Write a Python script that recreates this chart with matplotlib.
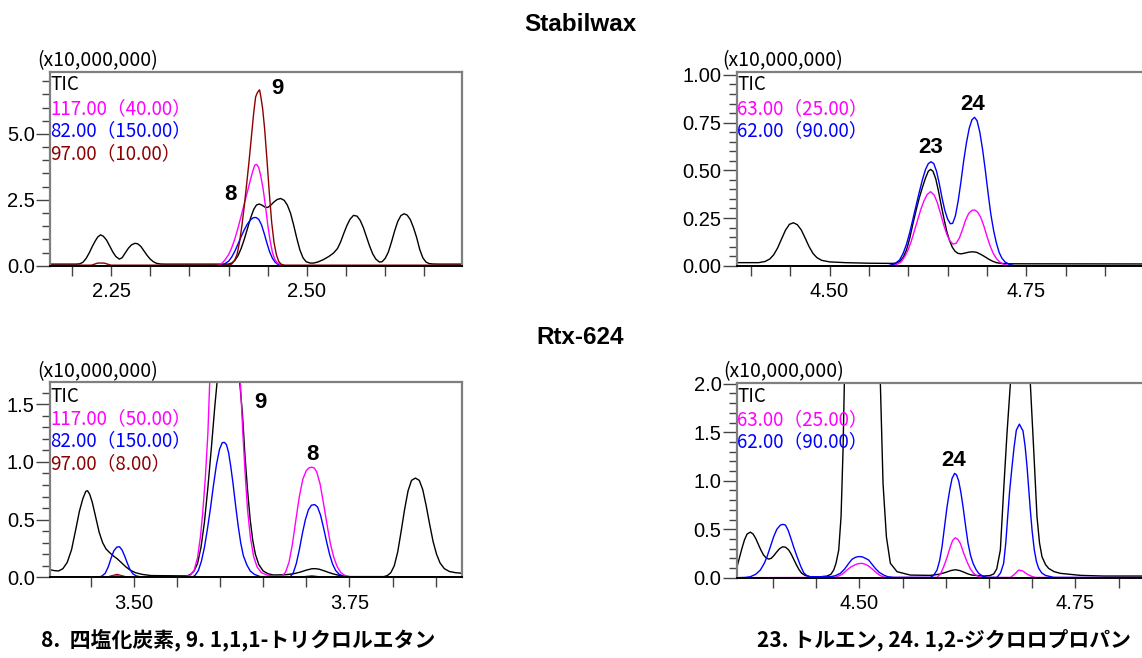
"""Stabilwax / Rtx-624 chromatogram comparison (mass chromatograms)."""

import matplotlib

matplotlib.use("Agg")

import matplotlib.pyplot as plt
from matplotlib.ticker import MultipleLocator, FormatStrFormatter

W, H = 1142, 658
TICK_FONT = "Liberation Sans"
JP_FONT = ["Noto Sans CJK JP", "DejaVu Sans"]

C_TIC = "black"
C_MAG = "#FF00FF"
C_BLUE = "#0000FF"
C_RED = "#8B0000"

# ---- Stabilwax, compounds 8 / 9 (top left) ----
tl_tic_x = [2.172, 2.205, 2.210, 2.214, 2.218, 2.222, 2.226, 2.230, 2.233, 2.2365,
            2.240, 2.244, 2.248, 2.252, 2.256, 2.2605, 2.264, 2.268, 2.272, 2.276,
            2.2805, 2.284, 2.288, 2.292, 2.296, 2.300, 2.304, 2.308, 2.313, 2.32,
            2.400, 2.404, 2.408, 2.412, 2.416, 2.420, 2.424, 2.428, 2.432, 2.4355,
            2.439, 2.4425, 2.4465, 2.450, 2.454, 2.458, 2.462, 2.4665, 2.471, 2.475,
            2.479, 2.483, 2.487, 2.491, 2.495, 2.499, 2.504, 2.5085, 2.514, 2.521,
            2.528, 2.534, 2.539, 2.543, 2.547, 2.551, 2.555, 2.5595, 2.564, 2.568,
            2.572, 2.576, 2.580, 2.584, 2.588, 2.5925, 2.596, 2.600, 2.604, 2.608,
            2.612, 2.616, 2.620, 2.624, 2.628, 2.632, 2.636, 2.640, 2.644, 2.648,
            2.652, 2.656, 2.661, 2.67, 2.698]
tl_tic_y = [0.06, 0.06, 0.07, 0.13, 0.27, 0.48, 0.73, 0.95, 1.09, 1.17,
            1.12, 0.98, 0.76, 0.53, 0.35, 0.25, 0.30, 0.48, 0.66, 0.79,
            0.85, 0.83, 0.73, 0.56, 0.39, 0.25, 0.15, 0.09, 0.065, 0.06,
            0.06, 0.10, 0.20, 0.38, 0.65, 1.0, 1.4, 1.8, 2.13, 2.30,
            2.34, 2.30, 2.22, 2.21, 2.30, 2.42, 2.51, 2.55, 2.48, 2.30,
            2.00, 1.55, 1.05, 0.60, 0.30, 0.15, 0.10, 0.10, 0.14, 0.23,
            0.35, 0.48, 0.65, 0.90, 1.22, 1.52, 1.76, 1.91, 1.88, 1.72,
            1.45, 1.10, 0.75, 0.45, 0.25, 0.14, 0.15, 0.28, 0.52, 0.90,
            1.32, 1.68, 1.90, 1.97, 1.92, 1.75, 1.45, 1.08, 0.62, 0.30,
            0.14, 0.08, 0.065, 0.06, 0.06]
tl_blue_x = [2.172, 2.385, 2.390, 2.395, 2.400, 2.404, 2.408, 2.412, 2.416, 2.420,
             2.424, 2.428, 2.4315, 2.435, 2.4385, 2.442, 2.4455, 2.449, 2.4525, 2.456,
             2.4595, 2.463, 2.467, 2.472, 2.698]
tl_blue_y = [0.0, 0.0, 0.02, 0.07, 0.17, 0.33, 0.55, 0.82, 1.10, 1.36,
             1.58, 1.74, 1.82, 1.83, 1.76, 1.55, 1.22, 0.85, 0.52, 0.28,
             0.13, 0.05, 0.01, 0.0, 0.0]
tl_mag_x = [2.172, 2.383, 2.390, 2.395, 2.400, 2.404, 2.408, 2.412, 2.416, 2.420,
            2.424, 2.428, 2.431, 2.4335, 2.436, 2.4385, 2.441, 2.444, 2.447, 2.450,
            2.453, 2.456, 2.459, 2.462, 2.466, 2.472, 2.698]
tl_mag_y = [0.0, 0.0, 0.05, 0.2, 0.42, 0.68, 1.02, 1.43, 1.88, 2.35,
            2.80, 3.27, 3.60, 3.82, 3.84, 3.72, 3.42, 2.93, 2.28, 1.55,
            0.95, 0.50, 0.24, 0.11, 0.04, 0.0, 0.0]
tl_red_x = [2.172, 2.225, 2.233, 2.241, 2.25, 2.400, 2.404, 2.408, 2.411, 2.414,
            2.417, 2.420, 2.423, 2.426, 2.429, 2.432, 2.4345, 2.4365, 2.4385, 2.4396,
            2.4415, 2.4435, 2.446, 2.449, 2.452, 2.455, 2.458, 2.461, 2.464, 2.467,
            2.471, 2.698]
tl_red_y = [0.02, 0.02, 0.10, 0.10, 0.02, 0.02, 0.06, 0.22, 0.45, 0.9,
            1.52, 2.25, 3.08, 3.92, 4.85, 5.78, 6.4, 6.55, 6.64, 6.67,
            6.35, 5.95, 5.2, 4.02, 2.75, 1.65, 0.88, 0.42, 0.16, 0.06,
            0.02, 0.02]

# ---- Stabilwax, compounds 23 / 24 (top right) ----
tr_tic_x = [4.382, 4.41, 4.418, 4.424, 4.429, 4.434, 4.439, 4.444, 4.449, 4.4542,
            4.459, 4.464, 4.469, 4.474, 4.479, 4.484, 4.49, 4.50, 4.52, 4.55,
            4.58, 4.585, 4.590, 4.594, 4.598, 4.602, 4.606, 4.610, 4.614, 4.618,
            4.622, 4.6255, 4.6285, 4.6315, 4.635, 4.6385, 4.642, 4.6455, 4.649, 4.6525,
            4.656, 4.6595, 4.663, 4.667, 4.672, 4.677, 4.682, 4.687, 4.692, 4.697,
            4.702, 4.707, 4.712, 4.718, 4.73, 4.92]
tr_tic_y = [0.016, 0.016, 0.022, 0.035, 0.057, 0.093, 0.14, 0.186, 0.217, 0.225,
            0.215, 0.188, 0.145, 0.10, 0.064, 0.042, 0.028, 0.02, 0.016, 0.013,
            0.012, 0.014, 0.025, 0.047, 0.085, 0.145, 0.22, 0.29, 0.355, 0.41,
            0.46, 0.495, 0.505, 0.495, 0.455, 0.39, 0.315, 0.245, 0.18, 0.132,
            0.097, 0.076, 0.065, 0.062, 0.066, 0.071, 0.073, 0.07, 0.06, 0.048,
            0.035, 0.024, 0.016, 0.012, 0.01, 0.009]
tr_mag_x = [4.382, 4.575, 4.585, 4.591, 4.596, 4.600, 4.604, 4.608, 4.612, 4.616,
            4.620, 4.624, 4.6285, 4.633, 4.637, 4.641, 4.645, 4.649, 4.653, 4.657,
            4.661, 4.665, 4.669, 4.673, 4.677, 4.681, 4.6845, 4.688, 4.692, 4.696,
            4.700, 4.704, 4.708, 4.712, 4.716, 4.721, 4.727, 4.92]
tr_mag_y = [0.0, 0.0, 0.005, 0.02, 0.05, 0.085, 0.13, 0.185, 0.24, 0.295,
            0.34, 0.373, 0.388, 0.37, 0.33, 0.275, 0.215, 0.165, 0.13, 0.113,
            0.118, 0.145, 0.19, 0.24, 0.275, 0.29, 0.292, 0.282, 0.255, 0.21,
            0.155, 0.105, 0.065, 0.038, 0.02, 0.008, 0.0, 0.0]
tr_blue_x = [4.382, 4.575, 4.583, 4.589, 4.5936, 4.598, 4.602, 4.606, 4.610, 4.614,
             4.618, 4.622, 4.6255, 4.629, 4.6325, 4.636, 4.6395, 4.643, 4.6465, 4.650,
             4.6535, 4.6565, 4.660, 4.6635, 4.667, 4.6705, 4.674, 4.6775, 4.681, 4.6843,
             4.6875, 4.691, 4.6945, 4.698, 4.7015, 4.705, 4.7085, 4.712, 4.7155, 4.719,
             4.723, 4.728, 4.735, 4.92]
tr_blue_y = [0.0, 0.0, 0.01, 0.03, 0.065, 0.115, 0.175, 0.245, 0.315, 0.385,
             0.45, 0.505, 0.535, 0.545, 0.535, 0.495, 0.43, 0.355, 0.29, 0.245,
             0.22, 0.222, 0.262, 0.34, 0.44, 0.55, 0.645, 0.72, 0.765, 0.778,
             0.76, 0.70, 0.61, 0.50, 0.38, 0.27, 0.185, 0.12, 0.07, 0.04,
             0.02, 0.008, 0.0, 0.0]

# ---- Rtx-624, compounds 8 / 9 (bottom left) ----
bl_tic_x = [3.4034, 3.408, 3.413, 3.418, 3.423, 3.428, 3.433, 3.437, 3.441, 3.4445,
            3.4465, 3.449, 3.452, 3.456, 3.460, 3.464, 3.468, 3.472, 3.4765, 3.481,
            3.486, 3.491, 3.496, 3.502, 3.51, 3.52, 3.5618, 3.566, 3.570, 3.574,
            3.578, 3.582, 3.586, 3.590, 3.594, 3.598, 3.602, 3.606, 3.610, 3.614,
            3.618, 3.6229, 3.626, 3.629, 3.632, 3.635, 3.638, 3.641, 3.645, 3.650,
            3.656, 3.662, 3.675, 3.685, 3.693, 3.700, 3.7065, 3.7106, 3.715, 3.720,
            3.726, 3.732, 3.74, 3.748, 3.79, 3.794, 3.798, 3.802, 3.806, 3.810,
            3.814, 3.818, 3.822, 3.8265, 3.831, 3.835, 3.839, 3.843, 3.847, 3.851,
            3.855, 3.86, 3.866, 3.873, 3.8806]
bl_tic_y = [0.065, 0.058, 0.055, 0.075, 0.13, 0.24, 0.42, 0.57, 0.68, 0.745,
            0.75, 0.72, 0.65, 0.52, 0.39, 0.30, 0.245, 0.215, 0.185, 0.16,
            0.125, 0.09, 0.062, 0.04, 0.025, 0.015, 0.012, 0.025, 0.055, 0.12,
            0.26, 0.48, 0.78, 1.12, 1.48, 1.80, 2.05, 2.18, 2.15, 2.02,
            1.85, 1.69, 1.42, 1.05, 0.75, 0.5, 0.32, 0.2, 0.11, 0.055,
            0.03, 0.02, 0.022, 0.03, 0.045, 0.062, 0.074, 0.075, 0.07, 0.058,
            0.042, 0.028, 0.013, 0.006, 0.006, 0.015, 0.04, 0.1, 0.22, 0.40,
            0.59, 0.75, 0.84, 0.86, 0.84, 0.76, 0.62, 0.46, 0.31, 0.2,
            0.125, 0.075, 0.05, 0.04, 0.035]
bl_mag_x = [3.4034, 3.472, 3.4807, 3.489, 3.56, 3.566, 3.570, 3.574, 3.5773, 3.580,
            3.5831, 3.586, 3.5881, 3.592, 3.597, 3.602, 3.606, 3.610, 3.614, 3.619,
            3.6236, 3.6265, 3.6294, 3.632, 3.6352, 3.639, 3.643, 3.648, 3.6546, 3.6662,
            3.672, 3.676, 3.680, 3.684, 3.688, 3.692, 3.696, 3.700, 3.7035, 3.7067,
            3.7095, 3.712, 3.716, 3.720, 3.724, 3.728, 3.732, 3.736, 3.740, 3.745,
            3.752, 3.8806]
bl_mag_y = [0.0, 0.0, 0.017, 0.0, 0.004, 0.02, 0.06, 0.17, 0.35, 0.56,
            0.87, 1.25, 1.69, 2.4, 3.0, 3.28, 3.3, 3.22, 3.0, 2.4,
            1.69, 1.25, 0.87, 0.58, 0.35, 0.18, 0.09, 0.04, 0.02, 0.006,
            0.01, 0.045, 0.13, 0.29, 0.5, 0.7, 0.85, 0.925, 0.95, 0.954,
            0.945, 0.915, 0.81, 0.64, 0.46, 0.29, 0.17, 0.09, 0.042, 0.015,
            0.004, 0.0]
bl_blue_x = [3.4034, 3.458, 3.463, 3.467, 3.4705, 3.474, 3.477, 3.4805, 3.4835, 3.4865,
             3.4895, 3.4925, 3.4955, 3.499, 3.503, 3.508, 3.568, 3.5715, 3.575, 3.5785,
             3.582, 3.5855, 3.589, 3.5925, 3.596, 3.5995, 3.6025, 3.605, 3.6075, 3.610,
             3.6125, 3.615, 3.618, 3.621, 3.624, 3.627, 3.631, 3.635, 3.640, 3.6468,
             3.6816, 3.685, 3.6885, 3.692, 3.6955, 3.699, 3.7025, 3.706, 3.7098, 3.713,
             3.7165, 3.720, 3.7235, 3.727, 3.7305, 3.734, 3.738, 3.743, 3.75, 3.8806]
bl_blue_y = [0.0, 0.0, 0.01, 0.035, 0.09, 0.17, 0.23, 0.262, 0.265, 0.237,
             0.185, 0.125, 0.07, 0.03, 0.012, 0.004, 0.0, 0.02, 0.06, 0.14,
             0.26, 0.42, 0.6, 0.8, 0.98, 1.11, 1.165, 1.17, 1.15, 1.08,
             0.96, 0.82, 0.63, 0.45, 0.3, 0.19, 0.11, 0.055, 0.025, 0.006,
             0.006, 0.04, 0.12, 0.24, 0.38, 0.5, 0.585, 0.625, 0.63, 0.61,
             0.54, 0.43, 0.31, 0.2, 0.115, 0.06, 0.027, 0.01, 0.004, 0.0]
bl_red_x = [3.4034, 3.468, 3.4807, 3.493, 3.69, 3.7067, 3.72, 3.8806]
bl_red_y = [0.0, 0.0, 0.025, 0.0, 0.0, 0.012, 0.0, 0.0]

# ---- Rtx-624, compounds 23 / 24 (bottom right) ----
br_tic_x = [4.3584, 4.361, 4.364, 4.367, 4.370, 4.3738, 4.377, 4.380, 4.383, 4.386,
            4.389, 4.392, 4.395, 4.398, 4.401, 4.404, 4.4075, 4.411, 4.4145, 4.418,
            4.421, 4.424, 4.427, 4.430, 4.433, 4.437, 4.443, 4.455, 4.4626, 4.467,
            4.4703, 4.473, 4.4761, 4.4788, 4.4811, 4.4826, 4.486, 4.491, 4.497, 4.503,
            4.509, 4.515, 4.520, 4.5243, 4.5274, 4.5313, 4.5359, 4.5436, 4.559, 4.5822,
            4.592, 4.600, 4.606, 4.6111, 4.616, 4.6208, 4.626, 4.6304, 4.6439, 4.651,
            4.6555, 4.659, 4.6632, 4.667, 4.6709, 4.6748, 4.679, 4.6835, 4.6865, 4.690,
            4.6945, 4.6979, 4.7018, 4.7056, 4.7085, 4.7114, 4.7155, 4.7191, 4.7255, 4.7326,
            4.7558, 4.7828, 4.848]
br_tic_y = [0.113, 0.2, 0.3, 0.39, 0.45, 0.47, 0.45, 0.405, 0.345, 0.285,
            0.235, 0.205, 0.192, 0.2, 0.228, 0.262, 0.298, 0.318, 0.315, 0.288,
            0.245, 0.19, 0.135, 0.085, 0.048, 0.024, 0.01, 0.01, 0.017, 0.035,
            0.079, 0.15, 0.285, 0.63, 1.32, 2.0, 3.5, 5.8, 7.4, 7.9,
            7.4, 5.8, 3.5, 2.0, 0.97, 0.42, 0.148, 0.062, 0.027, 0.024,
            0.035, 0.055, 0.074, 0.082, 0.074, 0.058, 0.038, 0.027, 0.017, 0.022,
            0.038, 0.09, 0.285, 0.9, 1.49, 2.0, 3.3, 4.2, 4.4, 4.2,
            3.3, 2.0, 1.32, 0.63, 0.36, 0.216, 0.135, 0.096, 0.062, 0.045,
            0.024, 0.017, 0.017]
br_mag_x = [4.3584, 4.47, 4.4742, 4.480, 4.4857, 4.4905, 4.4954, 4.499, 4.5031, 4.507,
            4.5108, 4.5155, 4.5204, 4.525, 4.5301, 4.5899, 4.594, 4.5976, 4.6015, 4.6053,
            4.608, 4.6111, 4.614, 4.6169, 4.6205, 4.6246, 4.6285, 4.6323, 4.637, 4.642,
            4.6748, 4.679, 4.6844, 4.689, 4.694, 4.699, 4.7037, 4.848]
br_mag_y = [0.0, 0.003, 0.01, 0.035, 0.079, 0.113, 0.135, 0.145, 0.148, 0.138,
            0.12, 0.085, 0.045, 0.018, 0.003, 0.003, 0.04, 0.113, 0.21, 0.32,
            0.385, 0.412, 0.395, 0.354, 0.26, 0.165, 0.09, 0.045, 0.015, 0.003,
            0.003, 0.03, 0.079, 0.07, 0.038, 0.015, 0.003, 0.0]
br_blue_x = [4.3584, 4.368, 4.3738, 4.380, 4.3854, 4.390, 4.3931, 4.397, 4.4008, 4.4045,
             4.4086, 4.4115, 4.4144, 4.4175, 4.4201, 4.424, 4.4279, 4.432, 4.4356, 4.4395,
             4.4433, 4.4664, 4.472, 4.478, 4.483, 4.4877, 4.4915, 4.4954, 4.499, 4.5031,
             4.507, 4.5108, 4.5145, 4.5185, 4.523, 4.5282, 4.533, 4.5397, 4.5822, 4.586,
             4.5899, 4.593, 4.5957, 4.5985, 4.6015, 4.6045, 4.6073, 4.6103, 4.6125, 4.615,
             4.6175, 4.620, 4.623, 4.6258, 4.6287, 4.6316, 4.635, 4.6381, 4.643, 4.6478,
             4.6593, 4.6635, 4.667, 4.6695, 4.6717, 4.674, 4.6767, 4.679, 4.6817, 4.6852,
             4.6875, 4.6894, 4.6918, 4.6941, 4.696, 4.6979, 4.700, 4.7025, 4.705, 4.7076,
             4.711, 4.7153, 4.725, 4.848]
br_blue_y = [0.0, 0.003, 0.01, 0.035, 0.079, 0.15, 0.216, 0.32, 0.423, 0.5,
             0.543, 0.55, 0.543, 0.49, 0.423, 0.315, 0.216, 0.12, 0.05, 0.02,
             0.01, 0.01, 0.02, 0.045, 0.09, 0.148, 0.19, 0.21, 0.218, 0.216,
             0.2, 0.182, 0.14, 0.096, 0.055, 0.027, 0.01, 0.003, 0.003, 0.025,
             0.079, 0.18, 0.32, 0.52, 0.732, 0.9, 1.024, 1.076, 1.06, 0.997,
             0.88, 0.732, 0.53, 0.354, 0.23, 0.148, 0.085, 0.045, 0.015, 0.003,
             0.003, 0.05, 0.148, 0.36, 0.63, 0.9, 1.144, 1.34, 1.522, 1.584,
             1.545, 1.515, 1.36, 1.144, 0.92, 0.698, 0.48, 0.285, 0.165, 0.096,
             0.05, 0.024, 0.003, 0.0]

# legend entries (label, colour) per panel
tl_legend = [("TIC", C_TIC), ("117.00（40.00）", C_MAG), ("82.00（150.00）", C_BLUE),
             ("97.00（10.00）", C_RED)]
tr_legend = [("TIC", C_TIC), ("63.00（25.00）", C_MAG), ("62.00（90.00）", C_BLUE)]
bl_legend = [("TIC", C_TIC), ("117.00（50.00）", C_MAG), ("82.00（150.00）", C_BLUE),
             ("97.00（8.00）", C_RED)]
br_legend = [("TIC", C_TIC), ("63.00（25.00）", C_MAG), ("62.00（90.00）", C_BLUE)]

column_titles = ["Stabilwax", "Rtx-624"]
captions = ["8.  四塩化炭素, 9. 1,1,1-トリクロルエタン", "23. トルエン, 24. 1,2-ジクロロプロパン"]


def fx(px):
    return px / W


def fy(py):
    return 1 - py / H


def make_axes(fig, left, top, right, bottom):
    return fig.add_axes([fx(left), fy(bottom), (right - left) / W, (bottom - top) / H])


def style_axes(ax, xlim, ylim, ymajor, yminor, yfmt):
    ax.set_xlim(*xlim)
    ax.set_ylim(*ylim)
    for side in ("left", "top", "right"):
        ax.spines[side].set_color("#7f7f7f")
        ax.spines[side].set_linewidth(1.6)
    ax.spines["bottom"].set_color("black")
    ax.spines["bottom"].set_linewidth(1.4)
    ax.xaxis.set_major_locator(MultipleLocator(0.25))
    ax.xaxis.set_minor_locator(MultipleLocator(0.05))
    ax.xaxis.set_major_formatter(FormatStrFormatter("%.2f"))
    ax.yaxis.set_major_locator(MultipleLocator(ymajor))
    ax.yaxis.set_minor_locator(MultipleLocator(yminor))
    ax.yaxis.set_major_formatter(FormatStrFormatter(yfmt))
    ax.tick_params(axis="y", which="major", length=10, width=1.0, color="#444444",
                   pad=1, labelsize=14.5)
    ax.tick_params(axis="y", which="minor", length=6, width=1.0, color="#444444")
    ax.tick_params(axis="x", which="both", length=7, width=1.0, color="#444444",
                   pad=5, labelsize=14.5)
    for lab in ax.get_xticklabels() + ax.get_yticklabels():
        lab.set_fontfamily(TICK_FONT)


def draw_traces(ax, traces):
    for xs, ys, color in traces:
        ax.plot(xs, ys, color=color, linewidth=1.0, solid_joinstyle="round")


def draw_legend(fig, left, tops, entries, mult_xy):
    fig.text(fx(mult_xy[0]), fy(mult_xy[1]), "(x10,000,000)", fontsize=14,
             family=JP_FONT, ha="left", va="center")
    for (label, color), py in zip(entries, tops):
        fig.text(fx(left), fy(py), label, fontsize=13.5, color=color,
                 family=JP_FONT, ha="left", va="center")


fig = plt.figure(figsize=(W / 100, H / 100), dpi=100)

# top left
ax_tl = make_axes(fig, 50, 71.7, 462, 265.7)
draw_traces(ax_tl, [(tl_tic_x, tl_tic_y, C_TIC), (tl_blue_x, tl_blue_y, C_BLUE),
                    (tl_mag_x, tl_mag_y, C_MAG), (tl_red_x, tl_red_y, C_RED)])
style_axes(ax_tl, (2.172, 2.698), (0, 7.36), 2.5, 0.5, "%.1f")
draw_legend(fig, 50, [85, 108.3, 130.7, 153.3], tl_legend, (37, 60.5))

# top right
ax_tr = make_axes(fig, 736.7, 71.7, 1160, 265.7)
draw_traces(ax_tr, [(tr_tic_x, tr_tic_y, C_TIC), (tr_mag_x, tr_mag_y, C_MAG),
                    (tr_blue_x, tr_blue_y, C_BLUE)])
style_axes(ax_tr, (4.382, 4.92), (0, 1.017), 0.25, 0.05, "%.2f")
draw_legend(fig, 737, [85, 108.3, 130.7], tr_legend, (722, 60.5))

# bottom left
ax_bl = make_axes(fig, 50, 382.3, 462, 577.3)
draw_traces(ax_bl, [(bl_red_x, bl_red_y, C_RED), (bl_tic_x, bl_tic_y, C_TIC),
                    (bl_blue_x, bl_blue_y, C_BLUE), (bl_mag_x, bl_mag_y, C_MAG)])
style_axes(ax_bl, (3.403, 3.8805), (0, 1.69), 0.5, 0.1, "%.1f")
draw_legend(fig, 50, [396.7, 418.3, 440.7, 463.3], bl_legend, (37, 371.5))

# bottom right
ax_br = make_axes(fig, 736.7, 383.3, 1160, 577.7)
draw_traces(ax_br, [(br_tic_x, br_tic_y, C_TIC), (br_mag_x, br_mag_y, C_MAG),
                    (br_blue_x, br_blue_y, C_BLUE)])
style_axes(ax_br, (4.358, 4.848), (0, 2.005), 0.5, 0.1, "%.1f")
draw_legend(fig, 737, [396.7, 419.3, 441.7], br_legend, (723, 371.5))

# peak numbers (baseline positions)
peak_labels = [("9", 277, 94.5), ("8", 230, 199.5), ("23", 930.5, 153.3), ("24", 972.5, 110),
               ("9", 260.7, 408), ("8", 312.3, 459.5), ("24", 954, 465.5)]
for text, px, py in peak_labels:
    fig.text(fx(px), fy(py), text, fontsize=16, fontweight="bold", family=TICK_FONT,
             ha="center", va="baseline")

for title, py in zip(column_titles, [30.7, 344]):
    fig.text(fx(580), fy(py), title, fontsize=17.5, fontweight="bold", family=TICK_FONT,
             ha="center", va="baseline")

for caption, px in zip(captions, [238, 944]):
    fig.text(fx(px), fy(640), caption, fontsize=15, fontweight="bold", family=JP_FONT,
             ha="center", va="center")

fig.savefig("out.png", dpi=100)
plt.close(fig)
